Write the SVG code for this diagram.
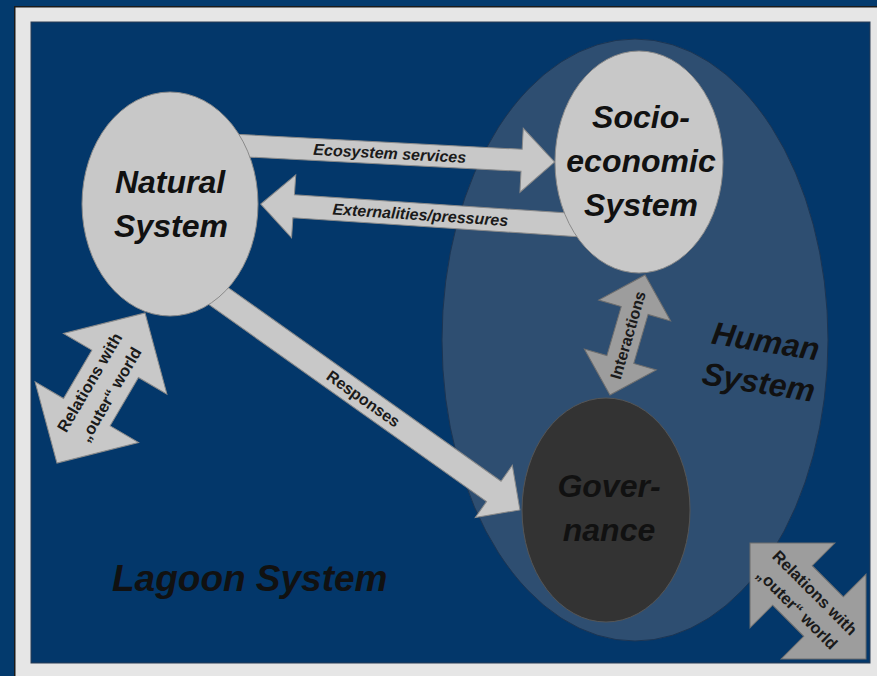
<svg xmlns="http://www.w3.org/2000/svg" width="877" height="676" viewBox="0 0 877 676">
<style>
.big{font-family:"Liberation Sans",Arial,sans-serif;font-weight:bold;font-style:italic;font-size:32px;fill:#111;text-anchor:middle}
.lbl{font-family:"Liberation Sans",Arial,sans-serif;font-weight:bold;font-size:16px;fill:#1a1a1a;text-anchor:middle}
.lbli{font-style:italic}
.rel{font-size:16.5px}
.light{fill:#c8c8c8;stroke:#8a8a8a;stroke-width:1}
.mid{fill:#9d9d9d;stroke:#6f6f6f;stroke-width:1}
</style>
<rect x="0" y="0" width="877" height="676" fill="#033a6d"/>
<rect x="14" y="6" width="863" height="670" fill="#1a1a1a"/>
<rect x="15.5" y="7.5" width="861.5" height="668.5" fill="#e6e6e6"/>
<rect x="31" y="22" width="839" height="641" fill="#03376a" stroke="#2a3d55" stroke-width="1"/>

<g id="human-system">
<ellipse cx="635" cy="340" rx="193" ry="301" fill="#2e4e71" stroke="#1c3553" stroke-width="1"/>
<text class="big" transform="translate(764,352) rotate(9)">Human</text>
<text class="big" transform="translate(757,393) rotate(9)">System</text>
</g>

<g id="connectors">
<g id="ecosystem-services" transform="translate(230,145) rotate(3)">
<polygon class="light" points="0,-11 292,-11 292,-32 325,0 292,32 292,11 0,11"/>
<text class="lbl lbli" x="160" y="5.5">Ecosystem services</text>
</g>
<g id="externalities" transform="translate(590,226) rotate(183.8)">
<polygon class="light" points="0,-11.5 297,-11.5 297,-31.5 330,0 297,31.5 297,11.5 0,11.5"/>
<text class="lbl lbli" transform="translate(170,0) rotate(180)" y="5.5">Externalities/pressures</text>
</g>
<g id="responses" transform="translate(210,290) rotate(35.36)">
<polygon class="light" points="0,-12.5 348,-12.5 348,-32 380,0 348,32 348,12.5 0,12.5"/>
<text class="lbl" x="188" y="5.5">Responses</text>
</g>
<g id="interactions" transform="translate(627.5,335) rotate(-73.7)">
<polygon class="mid" points="-62.5,0 -25.5,-37.5 -25.5,-14 25.5,-14 25.5,-37.5 62.5,0 25.5,37.5 25.5,14 -25.5,14 -25.5,37.5"/>
<text class="lbl" x="0" y="6">Interactions</text>
</g>
<g id="outer-left" transform="translate(101,388) rotate(-59.6)">
<polygon class="light" points="-87,0 -28,-60 -28,-27 28,-27 28,-60 87,0 28,60 28,27 -28,27 -28,60"/>
<text class="lbl rel" x="-1" y="-7">Relations with</text>
<text class="lbl rel" x="-1" y="17">„outer“ world</text>
</g>
<g id="outer-right" transform="translate(808,601) rotate(45)">
<polygon class="mid" points="-82,0 -22,-60 -22,-28 22,-28 22,-60 82,0 22,60 22,28 -22,28 -22,60"/>
<text class="lbl rel" x="-1" y="-5">Relations with</text>
<text class="lbl rel" x="-2" y="19">„outer“ world</text>
</g>
</g>

<g id="natural-system">
<ellipse cx="170" cy="204" rx="88" ry="112" fill="#c8c8c8" stroke="#8a8a8a" stroke-width="1"/>
<text class="big" x="170" y="193">Natural</text>
<text class="big" x="171" y="237">System</text>
</g>

<g id="socio-economic-system">
<ellipse cx="639" cy="162" rx="84" ry="111" fill="#c8c8c8" stroke="#8a8a8a" stroke-width="1"/>
<text class="big" x="641" y="128">Socio-</text>
<text class="big" x="641" y="172">economic</text>
<text class="big" x="641" y="216">System</text>
</g>

<g id="governance">
<ellipse cx="606" cy="510" rx="84" ry="112" fill="#333333" stroke="#555555" stroke-width="1"/>
<text class="big" x="609" y="497">Gover-</text>
<text class="big" x="609" y="541">nance</text>
</g>

<g id="lagoon-system">
<text class="big" x="112" y="591" style="text-anchor:start;font-size:37px">Lagoon System</text>
</g>
</svg>
